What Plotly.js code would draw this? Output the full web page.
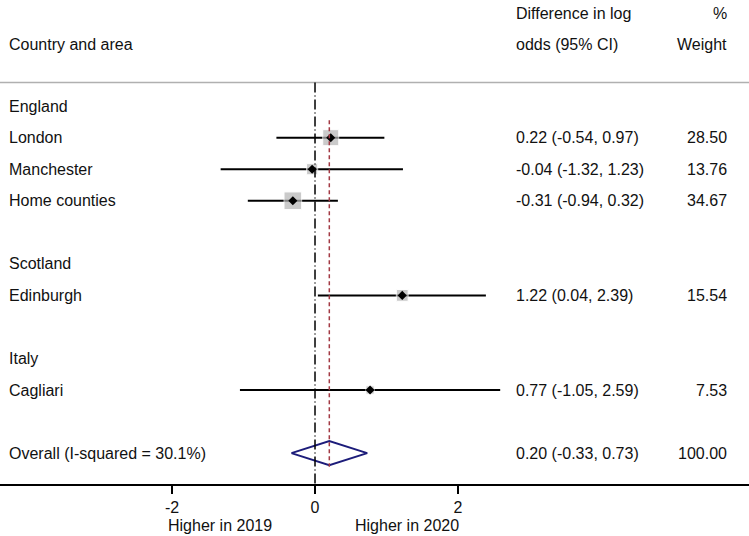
<!DOCTYPE html>
<html>
<head>
<meta charset="utf-8">
<script src="https://cdn.plot.ly/plotly-3.0.1.min.js"></script>
<style>
  html, body { margin: 0; padding: 0; background: #fff; }
  #forest { width: 749px; height: 536px; }
</style>
</head>
<body>
<div id="forest"></div>
<script>
// Row labels (left column) and their row positions
var rowLabels = ['England', 'London', 'Manchester', 'Home counties', 'Scotland',
                 'Edinburgh', 'Italy', 'Cagliari', 'Overall (I-squared = 30.1%)'];
var rowPos = [1, 2, 3, 4, 6, 7, 9, 10, 12];

// Study estimates
var studyRows = [2, 3, 4, 7, 10];
var est = [0.22, -0.04, -0.31, 1.22, 0.77];
var lower = [-0.54, -1.32, -0.94, 0.04, -1.05];
var upper = [0.97, 1.23, 0.32, 2.39, 2.59];
var weight = [28.50, 13.76, 34.67, 15.54, 7.53];
var ciText = ['0.22 (-0.54, 0.97)', '-0.04 (-1.32, 1.23)', '-0.31 (-0.94, 0.32)',
              '1.22 (0.04, 2.39)', '0.77 (-1.05, 2.59)'];
var weightText = ['28.50', '13.76', '34.67', '15.54', '7.53'];

// Overall (pooled) estimate
var overallRow = 12;
var overallEst = 0.20, overallLo = -0.33, overallHi = 0.73;
var overallCi = '0.20 (-0.33, 0.73)';
var overallWeight = '100.00';

// x axis ticks
var tickVals = [-2, 0, 2];
var tickText = ['-2', '0', '2'];

var font = {family: 'Liberation Sans, Arial, sans-serif', size: 16, color: '#111'};

// CI lines, one trace with gaps
var ciX = [], ciY = [];
for (var i = 0; i < est.length; i++) {
  ciX.push(lower[i], upper[i], null);
  ciY.push(studyRows[i], studyRows[i], null);
}

var traces = [
  {
    x: ciX, y: ciY, mode: 'lines', type: 'scatter',
    line: {color: '#000', width: 2}, hoverinfo: 'skip'
  },
  {
    // weight boxes
    x: est, y: studyRows, mode: 'markers', type: 'scatter',
    marker: {symbol: 'square', color: '#b5b5b5',
             size: weight.map(function (w) { return 3.0 * Math.sqrt(w); })}
  },
  {
    // point estimates
    x: est, y: studyRows, mode: 'markers', type: 'scatter',
    marker: {symbol: 'diamond', color: '#000', size: 7}
  },
  {
    // overall diamond
    x: [overallLo, overallEst, overallHi, overallEst, overallLo],
    y: [overallRow, overallRow - 0.38, overallRow, overallRow + 0.38, overallRow],
    mode: 'lines', type: 'scatter',
    line: {color: '#1c1c7a', width: 2}
  }
];

var ann = [];
function txt(s, x, y, anchor, xref) {
  ann.push({text: s, x: x, y: y, xref: xref || 'paper', yref: 'y',
            xanchor: anchor, yanchor: 'middle', showarrow: false, font: font});
}

var xLeft = 7 / 749, xCi = 514 / 749, xW = 729 / 749;

// headers
txt('Country and area', xLeft, -0.97, 'left');
txt('Difference in log', xCi, -1.95, 'left');
txt('odds (95% CI)', xCi, -0.97, 'left');
txt('%', xW, -1.95, 'right');
txt('Weight', xW, -0.97, 'right');

for (var j = 0; j < rowLabels.length; j++) txt(rowLabels[j], xLeft, rowPos[j], 'left');
for (var k = 0; k < est.length; k++) {
  txt(ciText[k], xCi, studyRows[k], 'left');
  txt(weightText[k], xW, studyRows[k], 'right');
}
txt(overallCi, xCi, overallRow, 'left');
txt(overallWeight, xW, overallRow, 'right');

// direction labels under the axis
ann.push({text: 'Higher in 2019', x: -1.33, y: -0.085, xref: 'x', yref: 'paper',
          xanchor: 'center', yanchor: 'middle', showarrow: false, font: font});
ann.push({text: 'Higher in 2020', x: 1.29, y: -0.085, xref: 'x', yref: 'paper',
          xanchor: 'center', yanchor: 'middle', showarrow: false, font: font});

var layout = {
  width: 749, height: 536,
  margin: {l: 0, r: 0, t: 0, b: 52},
  paper_bgcolor: '#fff', plot_bgcolor: '#fff',
  showlegend: false,
  font: font,
  xaxis: {
    range: [-4.406, 6.07], showgrid: false, zeroline: false,
    showline: true, linecolor: '#000', linewidth: 1.5,
    ticks: 'outside', ticklen: 8, tickwidth: 1.5, tickcolor: '#000',
    ticklabelstandoff: 0,
    tickvals: tickVals, ticktext: tickText, tickfont: font
  },
  yaxis: {range: [12.98, -2.365], visible: false},
  shapes: [
    // header separator
    {type: 'line', xref: 'paper', x0: 0, x1: 1, yref: 'y', y0: 0.254, y1: 0.254,
     line: {color: '#b0b0b0', width: 1.5}},
    // no-effect line
    {type: 'line', xref: 'x', x0: 0, x1: 0, yref: 'y', y0: 0.254, y1: 12.98,
     line: {color: '#000', width: 1.5, dash: '10px,3px,1px,3px'}},
    // overall effect line
    {type: 'line', xref: 'x', x0: overallEst, x1: overallEst, yref: 'y', y0: 1.45, y1: 12.43,
     line: {color: '#a33a44', width: 1.5, dash: '4px,3px'}}
  ],
  annotations: ann
};

Plotly.newPlot('forest', traces, layout, {staticPlot: true});
</script>
</body>
</html>
